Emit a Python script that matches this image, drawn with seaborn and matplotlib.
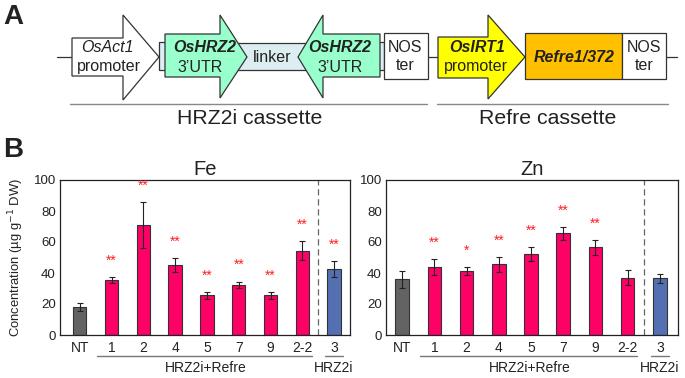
import matplotlib
matplotlib.use("Agg")
import matplotlib.pyplot as plt
import matplotlib.patches as mpatches
import seaborn as sns
import pandas as pd
import numpy as np

# ---------------- data ----------------
lines = ["NT", "1", "2", "4", "5", "7", "9", "2-2", "3"]
groups = ["NT", "HRZ2i+Refre", "HRZ2i+Refre", "HRZ2i+Refre", "HRZ2i+Refre",
          "HRZ2i+Refre", "HRZ2i+Refre", "HRZ2i+Refre", "HRZ2i"]
fe_mean = [18, 35.5, 71, 45, 25.5, 32.5, 25.5, 54.5, 42.5]
fe_err = [2.5, 2, 15, 4.5, 2, 2, 2.5, 6, 5]
fe_sig = ["", "**", "**", "**", "**", "**", "**", "**", "**"]
zn_mean = [36, 44, 41.5, 45.5, 52, 65.5, 56.5, 37, 36.5]
zn_err = [5.5, 5, 2.5, 5, 4.5, 4, 5, 5, 3]
zn_sig = ["", "**", "*", "**", "**", "**", "**", "", ""]
yticks = [0, 20, 40, 60, 80, 100]

colors = {"NT": "#636363", "HRZ2i+Refre": "#ff0066", "HRZ2i": "#5470b2"}

sns.set_theme(style="white")
plt.rcParams["font.family"] = ["Liberation Sans", "DejaVu Sans"]

W, H = 685, 378
fig = plt.figure(figsize=(W / 100, H / 100), dpi=100)

# ---------------- panel A: construct schematic (pixel coords) ----------------
axA = fig.add_axes([0, 0, 1, 1], zorder=0)
axA.set_xlim(0, W)
axA.set_ylim(H, 0)
axA.axis("off")

lw = 0.9
ec = "#333333"
tc = "#222222"
fs = 11.5


def arrow(x0, x1, xh, yb0, yb1, yh0, yh1, yc, fc):
    pts = [(x0, yb0), (x1, yb0), (x1, yh0), (xh, yc), (x1, yh1), (x1, yb1), (x0, yb1)]
    axA.add_patch(mpatches.Polygon(pts, closed=True, fc=fc, ec=ec, lw=lw, zorder=3))


def txt(x, y, s, **kw):
    axA.text(x, y, s, ha="center", va="center", fontsize=fs, color=tc, zorder=5, **kw)


yc = 57
# backbone lines
axA.plot([57, 72], [yc, yc], color=ec, lw=lw, zorder=1)
axA.plot([428, 438], [yc, yc], color=ec, lw=lw, zorder=1)
axA.plot([666, 677], [yc, yc], color=ec, lw=lw, zorder=1)

green = "#99ffcc"
# OsAct1 promoter
arrow(72, 123, 159, 38, 76, 15, 100, yc, "white")
txt(107, 48, "OsAct1", style="italic")
txt(109, 67, "promoter")
# small connectors
axA.add_patch(mpatches.Rectangle((159, 42), 7, 28, fc="#ddeef3", ec=ec, lw=lw, zorder=2))
axA.add_patch(mpatches.Rectangle((377, 42), 7, 28, fc="#ddeef3", ec=ec, lw=lw, zorder=2))
# linker
axA.add_patch(mpatches.Rectangle((236, 43), 72, 27, fc="#ddeef3", ec=ec, lw=lw, zorder=2))
txt(272, 57, "linker")
# OsHRZ2 forward
arrow(165, 220, 247, 34, 77, 15, 98, yc, green)
txt(205, 47, "OsHRZ2", style="italic", weight="bold")
txt(200, 67, "3\u2019UTR")
# OsHRZ2 reverse
arrow(380, 323, 298, 34, 77, 15, 98, yc, green)
txt(340, 47, "OsHRZ2", style="italic", weight="bold")
txt(340, 67, "3\u2019UTR")
# NOS ter 1
axA.add_patch(mpatches.Rectangle((384, 33), 44, 46, fc="white", ec=ec, lw=lw, zorder=3))
txt(405, 48, "NOS")
txt(405, 65, "ter")
# OsIRT1 promoter
arrow(438, 488, 525, 37, 78, 15, 99, yc, "#ffff00")
txt(477, 48, "OsIRT1", style="italic", weight="bold")
txt(476, 67, "promoter")
# Refre box
axA.add_patch(mpatches.Rectangle((525, 33), 97, 46, fc="#ffc000", ec=ec, lw=lw, zorder=3))
txt(574, 58, "Refre1/372", style="italic", weight="bold")
# NOS ter 2
axA.add_patch(mpatches.Rectangle((622, 33), 44, 46, fc="white", ec=ec, lw=lw, zorder=3))
txt(644, 48, "NOS")
txt(644, 65, "ter")
# cassette lines
axA.plot([70, 427], [104, 104], color="#888888", lw=1.0)
axA.plot([437, 668], [104, 104], color="#888888", lw=1.0)
axA.text(250, 118, "HRZ2i cassette", ha="center", va="center", fontsize=15.3, color=tc)
axA.text(548, 118, "Refre cassette", ha="center", va="center", fontsize=15.3, color=tc)

axA.text(3, 17, "A", ha="left", va="center", fontsize=20, weight="bold", color=tc)
axA.text(3, 150, "B", ha="left", va="center", fontsize=20, weight="bold", color=tc)

# ---------------- panel B: bar charts ----------------
def bar_panel(rect, title, means, errs, sigs, xlim, ylabel):
    ax = fig.add_axes(rect, zorder=2)
    df = pd.DataFrame({"line": lines, "group": groups, "value": means})
    sns.barplot(data=df, x="line", y="value", hue="group", order=lines,
                hue_order=list(colors.keys()), palette=colors, dodge=False,
                saturation=1, width=0.42, errorbar=None, edgecolor="#333333",
                linewidth=0.8, legend=False, ax=ax)
    ax.errorbar(np.arange(len(lines)), means, yerr=errs, fmt="none",
                ecolor="#222222", elinewidth=0.8, capsize=2.2, capthick=0.8, zorder=5)
    for i, (m, e, s) in enumerate(zip(means, errs, sigs)):
        if s:
            ax.text(i, m + e + 6, s, ha="center", va="bottom", color="#ff2020",
                    fontsize=10)
    ax.set_ylim(0, 100)
    ax.set_xlim(*xlim)
    ax.set_yticks(yticks)
    ax.set_yticklabels([str(t) for t in yticks])
    ax.tick_params(axis="both", length=0, labelsize=9.5, colors=tc)
    ax.tick_params(axis="x", labelsize=10, pad=4)
    ax.tick_params(axis="y", pad=3)
    ax.set_xlabel("")
    ax.set_ylabel(ylabel, fontsize=9.4, color=tc)
    ax.yaxis.set_label_coords(-0.118, 0.5)
    ax.set_title(title, fontsize=14.5, color=tc, pad=3.5)
    for sp in ax.spines.values():
        sp.set_visible(True)
        sp.set_color("#222222")
        sp.set_linewidth(0.9)
    ax.axvline(7.5, color="#666666", lw=0.9, ls=(0, (5, 3)))
    tr = ax.get_xaxis_transform()
    ax.plot([0.55, 7.3], [-0.135, -0.135], color="#777777", lw=1.0, transform=tr, clip_on=False)
    ax.plot([7.72, 8.28], [-0.135, -0.135], color="#777777", lw=1.0, transform=tr, clip_on=False)
    ax.text(3.95, -0.21, "HRZ2i+Refre", ha="center", va="center", fontsize=10,
            color=tc, transform=tr)
    ax.text(8.0, -0.21, "HRZ2i", ha="center", va="center", fontsize=10,
            color=tc, transform=tr)
    return ax


bar_panel([60 / W, (H - 335) / H, 290 / W, 155 / H], "Fe", fe_mean, fe_err, fe_sig,
          (-0.62, 8.5), "Concentration (\u00b5g g$^{-1}$ DW)")
bar_panel([386 / W, (H - 335) / H, 292 / W, 155 / H], "Zn", zn_mean, zn_err, zn_sig,
          (-0.5, 8.56), "")

fig.savefig("out.png", dpi=100)
